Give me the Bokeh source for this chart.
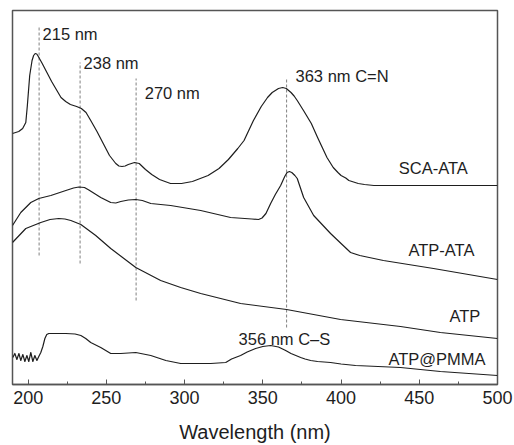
from bokeh.plotting import figure
from bokeh.models import Range1d, FixedTicker
from bokeh.embed import file_html
from bokeh.resources import INLINE
from bokeh.core.properties import value

# ---- data (wavelength in nm, absorbance in arbitrary offset units) ----
sca_wl = [190, 194, 196.5, 198.5, 199.5, 201, 202.5, 203.5, 204.5, 205.5, 206.5, 209, 212, 215,
          218, 221, 224, 227, 231, 234, 237, 240, 244, 248, 252, 256, 258, 260, 262, 264, 268,
          271, 275, 279, 284, 291, 298, 305, 315, 322, 328, 334, 338, 344, 349, 353, 356, 360,
          362.7, 365, 368, 370, 372, 376, 381, 385, 391, 395, 398, 400, 403, 405, 408, 411, 415,
          421, 500]
sca_abs = [251, 253, 256, 262, 279, 309, 324, 329, 331, 330.5, 328, 321, 312, 303,
           295, 287, 283, 280, 278, 276, 272, 264, 253, 241, 229, 221, 218.5, 218, 218.5, 220, 222,
           221, 215, 210, 205, 201, 201, 203, 209, 216, 225, 236, 244, 264, 278, 287, 292, 296,
           297, 296, 292, 288.5, 284, 274, 261, 247, 227, 217, 212, 209, 206.5, 204, 202.5, 201, 200,
           199, 199]

atpata_wl = [190, 195.3, 201.7, 206.8, 214.5, 224.1, 229, 232.4, 236, 238.8, 246.4, 252.8,
             256, 259.2, 264, 268.8, 273, 278.4, 291.1, 310.3, 329.4, 343, 347.3, 349.5, 352,
             355, 358, 361.4, 364, 365.5, 367, 368.5, 370.5, 372, 376.1, 382.5, 393.3, 400,
             406.1, 412, 418, 427.1, 459.1, 500]
atpata_abs = [159, 172, 182, 186, 189, 194, 196.5, 197.5, 197, 194.5, 187, 182,
              181.5, 183, 184.5, 185, 184, 181, 179, 174, 167, 165.5, 165, 166.5, 171,
              181, 190, 199, 208, 212, 213, 212, 209, 206, 187, 169, 151, 141,
              132, 129, 127, 124, 116, 105]

atp_wl = [190, 198.5, 208.1, 214, 219.6, 223.5, 227.3, 233.7, 243.2, 252.8, 268.8, 284.7,
          297.5, 310.3, 335.8, 365.2, 399.7, 438, 463.5, 500]
atp_abs = [142, 156, 162, 165, 166, 165.5, 164, 160, 149, 136, 117, 104,
           97, 91, 81, 75, 65, 58, 52, 46]

pmma_wl = [190.2, 191.5, 192.8, 194.1, 195.3, 196.6, 197.9, 199.2, 200.4, 201.7, 203.0, 204.3,
           205.6, 206.8, 208.1, 209.4, 210.7, 211.9, 213.2, 217.7, 224.1, 230.0, 233.7, 236.8,
           240.0, 246.4, 252.8, 259.2, 268.8, 278.4, 288.0, 297.5, 316.7, 326.3, 330.0, 335.8,
           340.0, 345.4, 350.0, 355.0, 360.0, 364.6, 368.0, 374.2, 377.0, 380.6, 385.0, 393.3,
           400.0, 409.3, 438.0, 463.5, 500]
pmma_abs = [27, 31, 25, 31, 24, 30, 23, 29, 23, 32, 23, 29,
            24, 28, 32, 38, 46, 50, 51, 51, 51, 50.5, 49, 46,
            42, 37, 31, 31, 32, 29, 24, 21, 21, 22, 25.5, 29,
            32.5, 36, 38, 39, 37.5, 34, 31, 27, 25.5, 24, 23, 22,
            20.5, 19, 17, 13, 9]

# marker lines (position nm, bottom, top)
mark_wl = [207, 233.2, 269, 365.2]
mark_bottom = [129, 121, 84, 57]
mark_top = [359, 322, 306, 307]

# annotations
ann_text = ["215 nm", "238 nm", "270 nm", "363 nm C=N", "SCA-ATA", "ATP-ATA", "ATP",
            "ATP@PMMA", "356 nm C\u2013S"]
ann_x = [209.2, 235.4, 274.5, 370.9, 436.9, 443.1, 469.3, 430.3, 334.5]
ann_y = [351, 322, 292, 309, 217, 135, 69, 26, 46]

x_ticks = [200, 250, 300, 350, 400, 450, 500]
x_minor = [225, 275, 325, 375, 425, 475]

FONT = "Liberation Sans"
INK = "#1e1e1e"

p = figure(width=514, height=445, output_backend="svg", toolbar_location=None,
           x_range=Range1d(190, 500), y_range=Range1d(0, 374),
           min_border_left=12, min_border_right=17, min_border_top=10, min_border_bottom=61)
p.background_fill_color = "white"
p.border_fill_color = "white"
p.outline_line_color = "#555555"
p.outline_line_width = 1.5
p.xgrid.visible = False
p.ygrid.visible = False
p.yaxis.visible = False

ax = p.xaxis[0]
ax.ticker = FixedTicker(ticks=x_ticks, minor_ticks=x_minor)
ax.axis_label = "Wavelength (nm)"
ax.axis_label_text_font = FONT
ax.axis_label_text_font_style = "normal"
ax.axis_label_text_font_size = "20px"
ax.axis_label_text_color = INK
ax.axis_label_standoff = 14
ax.major_label_text_font = FONT
ax.major_label_text_font_size = "18px"
ax.major_label_text_color = INK
ax.major_label_standoff = 6
ax.axis_line_color = "#555555"
ax.axis_line_width = 1.5
ax.major_tick_in = 5
ax.major_tick_out = 0
ax.minor_tick_in = 3
ax.minor_tick_out = 0
ax.major_tick_line_color = "#555555"
ax.minor_tick_line_color = "#555555"

p.segment(x0=mark_wl, y0=mark_bottom, x1=mark_wl, y1=mark_top,
          line_color="#808080", line_width=1, line_dash="3 2")

for wl, ab in [(sca_wl, sca_abs), (atpata_wl, atpata_abs), (atp_wl, atp_abs), (pmma_wl, pmma_abs)]:
    p.line(wl, ab, line_color=INK, line_width=1.2, line_join="round")

p.text(x=ann_x, y=ann_y, text=ann_text, text_font=value(FONT), text_font_size="16.5px",
       text_color=INK, text_baseline="alphabetic", text_align="left")

open("out.html", "w").write(file_html(p, INLINE))
